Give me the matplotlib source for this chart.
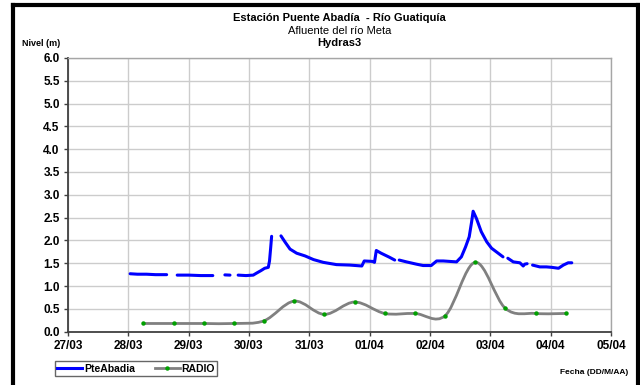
import numpy as np
import matplotlib
matplotlib.use("Agg")
import matplotlib.pyplot as plt
from matplotlib.path import Path
from matplotlib.patches import PathPatch
from matplotlib.lines import Line2D

plt.rcParams['font.family'] = ['Liberation Sans', 'DejaVu Sans']

# ---- data (x in days after 27/03 00:00) ----
tick_labels = ["27/03", "28/03", "29/03", "30/03", "31/03",
               "01/04", "02/04", "03/04", "04/04", "05/04"]
y_ticks = [0.0, 0.5, 1.0, 1.5, 2.0, 2.5, 3.0, 3.5, 4.0, 4.5, 5.0, 5.5, 6.0]

pte_day = [1.03, 1.15, 1.30, 1.45, 1.635, np.nan,
           1.81, 2.00, 2.20, 2.40, np.nan,
           2.60, 2.685, np.nan,
           2.82, 2.95, 3.07, 3.12, 3.20, 3.26, 3.32, 3.34, 3.36, 3.375, np.nan,
           3.53, 3.60, 3.68, 3.79, 3.93, 4.07, 4.23, 4.45, 4.67, 4.87, 4.91,
           5.05, 5.08, 5.11, 5.19, 5.33, 5.415, np.nan,
           5.49, 5.61, 5.775, 5.885, 6.02, 6.11, 6.22, 6.44, 6.52, 6.59, 6.65,
           6.69, 6.715, 6.77, 6.85, 6.94, 7.02, 7.13, 7.21, np.nan,
           7.29, 7.38, 7.49, 7.545, 7.57, 7.61, np.nan,
           7.70, 7.82, 7.93, 8.02, 8.13, 8.21, 8.29, 8.35]
pte_level = [1.27, 1.26, 1.26, 1.25, 1.25, np.nan,
             1.24, 1.24, 1.23, 1.23, np.nan,
             1.245, 1.24, np.nan,
             1.24, 1.23, 1.24, 1.28, 1.34, 1.39, 1.41, 1.55, 1.85, 2.09, np.nan,
             2.10, 1.96, 1.81, 1.72, 1.66, 1.58, 1.52, 1.47, 1.46, 1.44, 1.55,
             1.54, 1.52, 1.78, 1.72, 1.63, 1.57, np.nan,
             1.57, 1.53, 1.48, 1.45, 1.45, 1.55, 1.55, 1.53, 1.64, 1.86, 2.08,
             2.41, 2.64, 2.48, 2.19, 1.97, 1.83, 1.72, 1.64, np.nan,
             1.61, 1.53, 1.51, 1.44, 1.48, 1.49, np.nan,
             1.46, 1.42, 1.42, 1.41, 1.39, 1.46, 1.51, 1.51]

radio_day = [1.25, 1.75, 2.25, 2.75, 3.25, 3.75, 4.25, 4.75,
             5.25, 5.75, 6.25, 6.75, 7.25, 7.75, 8.25]
radio_level = [0.18, 0.18, 0.18, 0.18, 0.24, 0.67, 0.38, 0.65,
               0.40, 0.40, 0.35, 1.52, 0.51, 0.40, 0.40]

# ---- figure ----
W, H = 640, 385
fig = plt.figure(figsize=(W / 100, H / 100), dpi=100)
ax = fig.add_axes([68 / W, 1 - 331.7 / H, (611 - 68) / W, (331.7 - 57.9) / H])

ax.set_xlim(0, 9)
ax.set_ylim(0, 6)
ax.set_xticks(range(len(tick_labels)))
ax.set_xticklabels(tick_labels, fontsize=8.5, fontweight='bold')
ax.set_yticks(y_ticks)
ax.set_yticklabels([f"{v:.1f}" for v in y_ticks], fontsize=8.5, fontweight='bold')
ax.tick_params(axis='both', direction='out', length=3, width=1, color='#404040', pad=3)
ax.grid(True, color='#cccccc', linewidth=1)
ax.set_axisbelow(True)
for s in ['left', 'bottom']:
    ax.spines[s].set_color('#404040')
    ax.spines[s].set_linewidth(1.3)
for s in ['top', 'right']:
    ax.spines[s].set_color('#a6a6a6')
    ax.spines[s].set_linewidth(1)

# blue series
ax.plot(pte_day, pte_level, color='#0000ff', linewidth=2.2, solid_capstyle='round',
        solid_joinstyle='round', zorder=3)

# smoothed radio series (Bezier through points, like spreadsheet smoothing)
px = np.array(radio_day)
py = np.array(radio_level)
verts = [(px[0], py[0])]
codes = [Path.MOVETO]
n = len(px)
for i in range(n - 1):
    p0 = np.array([px[max(i - 1, 0)], py[max(i - 1, 0)]])
    p1 = np.array([px[i], py[i]])
    p2 = np.array([px[i + 1], py[i + 1]])
    p3 = np.array([px[min(i + 2, n - 1)], py[min(i + 2, n - 1)]])
    c1 = p1 + (p2 - p0) / 6.0
    c2 = p2 - (p3 - p1) / 6.0
    verts += [tuple(c1), tuple(c2), tuple(p2)]
    codes += [Path.CURVE4] * 3
patch = PathPatch(Path(verts, codes), facecolor='none', edgecolor='#808080',
                  linewidth=2, zorder=3)
ax.add_patch(patch)
ax.plot(radio_day, radio_level, linestyle='none', marker='o', markersize=3.2,
        color='#00a000', markeredgewidth=0, zorder=4)

# titles
cx = 0.5 * (68 + 611) / W
fig.text(cx, 1 - 18 / H, "Estación Puente Abadía  - Río Guatiquía",
         ha='center', va='center', fontsize=8, fontweight='bold')
fig.text(cx, 1 - 31 / H, "Afluente del río Meta",
         ha='center', va='center', fontsize=8)
fig.text(cx, 1 - 43 / H, "Hydras3",
         ha='center', va='center', fontsize=8, fontweight='bold')
fig.text(22 / W, 1 - 43 / H, "Nivel (m)", ha='left', va='center',
         fontsize=6.5, fontweight='bold')
fig.text(628 / W, 1 - 373 / H, "Fecha (DD/M/AA)", ha='right', va='center',
         fontsize=6, fontweight='bold')

# legend
handles = [Line2D([], [], color='#0000ff', linewidth=2.2),
           Line2D([], [], color='#808080', linewidth=2, marker='o', markersize=3.2,
                  markerfacecolor='#00a000', markeredgewidth=0)]
leg = fig.legend(handles, ["PteAbadia", "RADIO"], loc='center',
                 bbox_to_anchor=(136 / W, 1 - 368.5 / H), ncol=2,
                 prop={'weight': 'bold', 'size': 7.5},
                 frameon=True, fancybox=False, handlelength=2.4, handletextpad=0.15,
                 columnspacing=1.9, borderpad=0.25, borderaxespad=0)
leg.get_frame().set_edgecolor('#404040')
leg.get_frame().set_linewidth(1)

# thick black outer border
def fl(x0, y0, x1, y1):
    fig.add_artist(Line2D([x0 / W, x1 / W], [1 - y0 / H, 1 - y1 / H],
                          color='black', linewidth=3, transform=fig.transFigure,
                          solid_capstyle='projecting'))
fl(13, 5, 638, 5)
fl(13, 5, 13, 400)
fl(638, 5, 638, 400)

fig.savefig("out.png", dpi=100)
